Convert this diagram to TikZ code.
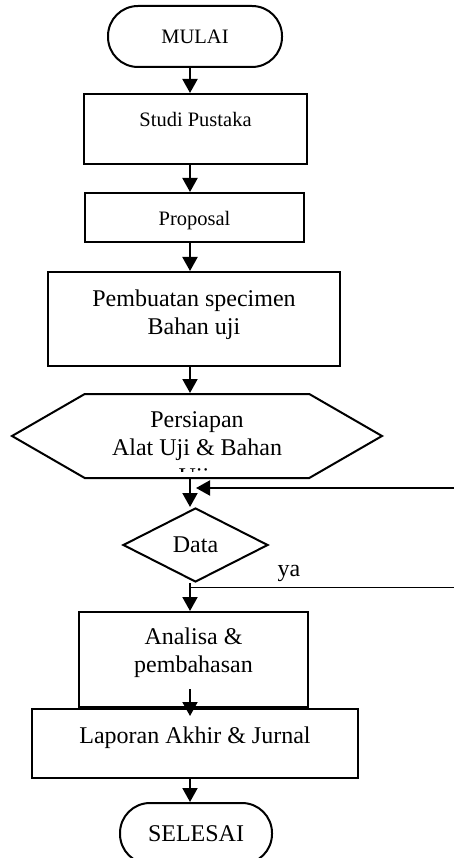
\documentclass[tikz,border=0pt]{standalone}
\usepackage{fontspec}
\setmainfont{Liberation Serif}
\usetikzlibrary{arrows.meta,shapes.geometric,shapes.symbols,calc}

\begin{document}
\begin{tikzpicture}[x=1pt,y=-1pt,line width=2pt,
    smalltext/.style={font=\fontsize{20.5pt}{24pt}\selectfont},
    bigtext/.style={font=\fontsize{24pt}{28pt}\selectfont},
    terminal/.style={draw,rectangle,rounded corners=30pt,inner sep=0pt},
    process/.style={draw,rectangle,inner sep=0pt,align=center},
    flow/.style={-{Triangle[length=14pt,width=15pt]}}]
  \useasboundingbox (0,0) rectangle (454,858);
  \def\colX{190}
  \coordinate (axis) at (\colX,0);
  % start and first steps
  \node[terminal,smalltext,minimum width=174pt,minimum height=61pt] (mulai) at (195,36.5) {MULAI};
  \node[process,smalltext,minimum width=223pt,text height=32.7pt,text depth=37.3pt] (studi) at (195.5,129) {Studi Pustaka};
  \node[process,smalltext,minimum width=219pt,text height=32.7pt,text depth=16.3pt] (proposal) at (194.5,217.5) {Proposal};
  \node[process,bigtext,minimum width=292pt,text height=62pt,text depth=32pt] (specimen) at (194,319) {Pembuatan specimen\\Bahan uji};
  \node[draw,signal,signal to=west and east,signal pointer angle=60,bigtext,align=center,
        minimum width=370pt,minimum height=84pt,inner sep=0pt] (persiapan) at (197,436) {Persiapan\\Alat Uji \& Bahan};
  \begin{scope}
    \clip (0,0) rectangle (454,471);
    \node[bigtext,anchor=base] (uji) at (194,484) {Uji};
  \end{scope}
  % decision
  \node[draw,diamond,aspect=2,bigtext,minimum width=145pt,minimum height=74pt,inner sep=0pt] (data) at (195.5,545) {Data};
  \node[bigtext,anchor=base] (ya) at (289,576) {ya};
  \coordinate (loopin) at (454,488);
  \coordinate (yaout) at (454,587);
  % last steps
  \node[process,bigtext,minimum width=229pt,text height=60pt,text depth=35pt] (analisa) at (193.5,659.5) {Analisa \&\\pembahasan};
  \node[process,bigtext,minimum width=326pt,text height=34.3pt,text depth=34.7pt] (laporan) at (195,743.5) {Laporan Akhir \& Jurnal};
  \node[terminal,bigtext,minimum width=152pt,minimum height=61pt] (selesai) at (196,833.5) {SELESAI};
  % connectors
  \draw[flow] (mulai.south -| axis) -- (studi.north -| axis);
  \draw[flow] (studi.south -| axis) -- (proposal.north -| axis);
  \draw[flow] (proposal.south -| axis) -- (specimen.north -| axis);
  \draw[flow] (specimen.south -| axis) -- (persiapan.north -| axis);
  \draw[flow] (persiapan.south -| axis) -- (data.north -| axis);
  \draw[flow] (loopin) -- ($(loopin -| axis)+(6,0)$);
  \draw[flow] (data.south -| axis) -- (analisa.north -| axis);
  \draw[line width=1pt] (yaout -| axis) -- (yaout);
  \draw[flow] ($(analisa.south -| axis)+(0,-19)$) -- ($(laporan.north -| axis)+(0,8)$);
  \draw[flow] (laporan.south -| axis) -- (selesai.north -| axis);
\end{tikzpicture}
\end{document}
